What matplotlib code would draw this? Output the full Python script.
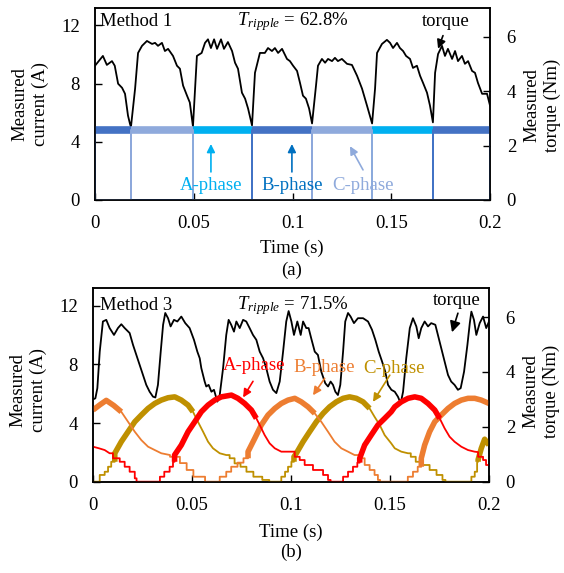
import numpy as np
import matplotlib.pyplot as plt

plt.rcParams['font.family'] = 'Liberation Serif'
plt.rcParams['mathtext.fontset'] = 'custom'
plt.rcParams['mathtext.rm'] = 'Liberation Serif'
plt.rcParams['mathtext.it'] = 'Liberation Serif:italic'
plt.rcParams['font.size'] = 13.5

# ---------------- Method 1 (square-wave currents) ----------------
# torque, [time s, Nm]
m1_torque = np.array([
    [0.0, 4.93], [0.004, 5.29], [0.006, 4.96], [0.0086, 5.1], [0.010, 4.93],
    [0.0117, 4.27], [0.0137, 4.12], [0.0152, 3.9], [0.0167, 3.1], [0.0177, 2.8],
    [0.0182, 2.68], [0.0203, 4.09], [0.0218, 5.4], [0.0238, 5.66], [0.0263, 5.84],
    [0.0289, 5.73], [0.0304, 5.77], [0.0319, 5.66], [0.0339, 5.77], [0.0354, 5.47],
    [0.037, 5.55], [0.0395, 5.29], [0.0415, 4.93], [0.043, 4.82], [0.0446, 4.2],
    [0.0466, 3.83], [0.048, 3.58], [0.0496, 2.7], [0.0516, 5.29], [0.054, 5.4],
    [0.0557, 5.77], [0.0572, 5.9], [0.0587, 5.58], [0.0603, 5.9], [0.0618, 5.55],
    [0.0638, 5.9], [0.0653, 5.55], [0.0673, 5.8], [0.0694, 5.47], [0.0709, 5.04],
    [0.0724, 4.82], [0.0744, 3.94], [0.076, 3.72], [0.0775, 3.36], [0.0795, 2.74],
    [0.081, 4.67], [0.0835, 5.4], [0.086, 5.4], [0.0876, 5.58], [0.0896, 5.47],
    [0.0911, 5.58], [0.0927, 5.4], [0.0947, 5.55], [0.0972, 5.18], [0.0987, 5.1],
    [0.1003, 4.93], [0.1023, 4.74], [0.1038, 4.3], [0.1053, 3.83], [0.1068, 3.72],
    [0.1084, 3.36], [0.1099, 2.81], [0.1119, 4.2], [0.1129, 4.93], [0.1149, 5.18],
    [0.1165, 5.04], [0.118, 5.18], [0.12, 5.1], [0.1215, 5.22], [0.123, 5.1],
    [0.125, 5.18], [0.1276, 5.0], [0.1301, 4.96], [0.1327, 4.56], [0.1352, 4.09],
    [0.1377, 3.47], [0.1403, 2.81], [0.1418, 4.09], [0.1428, 5.4], [0.1453, 5.73],
    [0.1478, 5.88], [0.1494, 5.77], [0.1509, 5.58], [0.1529, 5.77], [0.1544, 5.58],
    [0.156, 5.47], [0.1575, 5.29], [0.1595, 5.18], [0.161, 4.85], [0.163, 4.93],
    [0.1646, 4.56], [0.1661, 4.3], [0.1681, 3.94], [0.1696, 3.47], [0.1711, 2.85],
    [0.1722, 4.67], [0.1737, 5.36], [0.1757, 5.66], [0.1772, 5.29], [0.1787, 5.55],
    [0.1808, 5.18], [0.1823, 5.47], [0.1838, 5.1], [0.1858, 5.29], [0.1873, 5.0],
    [0.1889, 5.1], [0.1909, 4.74], [0.1924, 4.67], [0.1939, 4.3], [0.196, 3.9],
    [0.1985, 3.9], [0.2, 3.47],
])
# commutation instants and which phase conducts in between
m1_switch_t = [0.0, 0.018, 0.0496, 0.0795, 0.1099, 0.1403, 0.1711, 0.2]
m1_phase_seq = ['B', 'C', 'A', 'B', 'C', 'A', 'B']
m1_current = 4.8
m1_ripple = 62.8

# ---------------- Method 3 (sinusoidal-like currents) ----------------
m3_torque = np.array([
    [0.0, 3.0], [0.0012, 3.04], [0.0022, 3.41], [0.0034, 4.74], [0.005, 5.84],
    [0.0067, 5.9], [0.0084, 5.6], [0.0106, 5.35], [0.0126, 5.6], [0.0143, 5.74],
    [0.016, 5.6], [0.0185, 5.42], [0.0202, 4.99], [0.0219, 4.62], [0.0236, 4.26],
    [0.0253, 3.89], [0.0269, 3.53], [0.0286, 3.28], [0.0303, 3.1], [0.0315, 3.07],
    [0.0328, 3.53], [0.0342, 4.74], [0.0354, 5.72], [0.0365, 6.15], [0.0379, 5.96],
    [0.0392, 5.66], [0.0409, 5.9], [0.0426, 5.84], [0.0446, 6.02], [0.0466, 5.78],
    [0.0488, 5.6], [0.051, 5.17], [0.0527, 4.74], [0.0539, 4.5], [0.0547, 4.14],
    [0.0564, 3.65], [0.0572, 3.47], [0.0584, 3.53], [0.0598, 3.28], [0.0611, 3.35],
    [0.0628, 2.92], [0.064, 3.16], [0.0657, 4.14], [0.0673, 5.35], [0.0685, 5.9],
    [0.0698, 5.72], [0.0712, 5.47], [0.0724, 5.84], [0.0741, 5.6], [0.0758, 5.9],
    [0.0774, 5.84], [0.0791, 5.6], [0.0808, 5.35], [0.0825, 5.17], [0.0842, 4.74],
    [0.0859, 4.5], [0.0875, 4.14], [0.0892, 3.65], [0.0909, 3.35], [0.0926, 3.23],
    [0.0943, 3.65], [0.096, 4.74], [0.0976, 5.84], [0.0988, 6.22], [0.1002, 5.84],
    [0.1015, 5.35], [0.1032, 5.84], [0.1049, 5.35], [0.1061, 5.84], [0.1077, 5.6],
    [0.1089, 5.6], [0.1102, 5.23], [0.112, 4.74], [0.1136, 4.62], [0.1153, 4.01],
    [0.1173, 3.59], [0.1187, 3.47], [0.12, 3.65], [0.1212, 3.53], [0.1224, 3.28],
    [0.1237, 3.16], [0.1249, 3.53], [0.1263, 4.74], [0.1274, 5.84], [0.1288, 6.15],
    [0.1301, 6.02], [0.1318, 5.78], [0.1338, 5.96], [0.1364, 5.96], [0.1389, 5.84],
    [0.1409, 5.54], [0.1426, 5.17], [0.1443, 4.74], [0.146, 4.38], [0.1476, 4.01],
    [0.149, 3.53], [0.1507, 3.35], [0.1524, 3.28], [0.154, 3.1], [0.1554, 2.86],
    [0.1566, 3.28], [0.1582, 4.5], [0.16, 5.6], [0.1616, 5.96], [0.1633, 5.66],
    [0.1645, 5.23], [0.1658, 5.6], [0.1675, 5.84], [0.1692, 5.66], [0.1708, 5.78],
    [0.1729, 5.72], [0.1742, 5.35], [0.1759, 4.87], [0.1776, 4.38], [0.1793, 3.89],
    [0.1809, 3.65], [0.1826, 3.53], [0.1843, 3.35], [0.1857, 3.41], [0.1874, 4.01],
    [0.1891, 4.99], [0.1903, 5.78], [0.1911, 6.2], [0.1924, 5.9], [0.1936, 5.35],
    [0.1953, 5.78], [0.197, 6.02], [0.1986, 5.6], [0.2, 5.84],
])

m3_ia = np.array([
    [0.0, 2.39], [0.003, 2.28], [0.0059, 2.16], [0.0084, 1.94], [0.0101, 1.94],
    [0.0101, 1.6], [0.0135, 1.6], [0.0135, 1.36], [0.016, 1.36], [0.016, 1.02],
    [0.0185, 1.02], [0.0185, 0.68], [0.0211, 0.68], [0.0211, 0.23], [0.022, 0.23],
    [0.022, 0.0], [0.0338, 0.0], [0.0338, 0.34], [0.036, 0.34], [0.036, 0.68],
    [0.0387, 0.68], [0.0387, 1.02], [0.0404, 1.02], [0.0404, 1.36], [0.0412, 1.36],
    [0.0412, 1.82], [0.0446, 2.5], [0.048, 3.41], [0.0514, 4.09], [0.0547, 4.77],
    [0.0581, 5.23], [0.0615, 5.57], [0.0648, 5.79], [0.0699, 5.91], [0.0732, 5.69],
    [0.0766, 5.34], [0.08, 4.89], [0.0825, 4.32], [0.0842, 3.87], [0.0867, 3.18],
    [0.0892, 2.62], [0.0918, 2.28], [0.0951, 2.05], [0.1019, 2.05], [0.1019, 1.7],
    [0.1044, 1.7], [0.1044, 1.48], [0.1069, 1.48], [0.1069, 1.14], [0.1111, 1.14],
    [0.1111, 0.8], [0.1162, 0.8], [0.1162, 0.46], [0.1187, 0.46], [0.1187, 0.12],
    [0.12, 0.12], [0.12, 0.0], [0.1263, 0.0], [0.1263, 0.34], [0.1288, 0.34],
    [0.1288, 0.68], [0.1313, 0.68], [0.1313, 1.02], [0.1335, 1.02], [0.1335, 1.3],
    [0.1347, 1.3], [0.1347, 1.6], [0.1372, 2.5], [0.1405, 3.18], [0.1439, 3.87],
    [0.1473, 4.32], [0.1506, 4.77], [0.1524, 5.11], [0.1557, 5.45], [0.1591, 5.69],
    [0.1625, 5.79], [0.1658, 5.69], [0.1692, 5.34], [0.1726, 4.89], [0.1751, 4.32],
    [0.1776, 3.64], [0.1801, 3.07], [0.1826, 2.73], [0.186, 2.39], [0.1894, 2.16],
    [0.1927, 2.05], [0.1945, 2.02], [0.1945, 1.7], [0.197, 1.7], [0.197, 1.48],
    [0.1985, 1.48], [0.1985, 1.14], [0.2, 1.14],
])
m3_ib = np.array([
    [0.0, 4.89], [0.0035, 5.25], [0.0067, 5.55], [0.0105, 5.2], [0.0143, 4.77],
    [0.0177, 4.09], [0.0211, 3.41], [0.0244, 2.84], [0.0278, 2.39], [0.0312, 2.16],
    [0.0345, 1.94], [0.0389, 1.82], [0.0389, 1.7], [0.0439, 1.7], [0.0439, 1.27],
    [0.0473, 1.27], [0.0473, 0.8], [0.0507, 0.8], [0.0507, 0.34], [0.0566, 0.34],
    [0.0566, 0.0], [0.064, 0.0], [0.064, 0.34], [0.0673, 0.34], [0.0673, 0.68],
    [0.0698, 0.68], [0.0698, 1.02], [0.073, 1.02], [0.073, 1.3], [0.076, 1.3],
    [0.076, 1.6], [0.0783, 1.6], [0.0783, 2.05], [0.0817, 2.96], [0.085, 3.87],
    [0.0884, 4.55], [0.0918, 5.0], [0.0951, 5.34], [0.0985, 5.57], [0.1019, 5.69],
    [0.1052, 5.45], [0.1086, 5.11], [0.112, 4.66], [0.1153, 4.09], [0.1187, 3.41],
    [0.122, 2.73], [0.1254, 2.28], [0.1288, 2.05], [0.1321, 1.82], [0.1347, 1.82],
    [0.1347, 1.6], [0.1372, 1.6], [0.1372, 1.14], [0.1397, 1.14], [0.1397, 0.8],
    [0.1422, 0.8], [0.1422, 0.46], [0.1439, 0.46], [0.1439, 0.12], [0.145, 0.12],
    [0.145, 0.0], [0.159, 0.0], [0.159, 0.34], [0.1616, 0.34], [0.1616, 0.68],
    [0.164, 0.68], [0.164, 1.02], [0.1658, 1.02], [0.1658, 1.6], [0.1675, 2.5],
    [0.17, 3.41], [0.1726, 4.09], [0.1759, 4.55], [0.1793, 5.0], [0.1826, 5.34],
    [0.186, 5.57], [0.1894, 5.69], [0.1928, 5.69], [0.1961, 5.57], [0.2, 5.34],
])
m3_ic = np.array([
    [0.0, 0.0], [0.0034, 0.0], [0.0034, 0.46], [0.0059, 0.46], [0.0059, 0.68],
    [0.0076, 0.68], [0.0076, 1.02], [0.0092, 1.02], [0.0092, 1.36], [0.011, 1.36],
    [0.011, 1.94], [0.0143, 2.73], [0.0177, 3.41], [0.0211, 4.09], [0.0244, 4.55],
    [0.0278, 5.0], [0.0312, 5.34], [0.0345, 5.57], [0.0379, 5.73], [0.0413, 5.79],
    [0.0446, 5.57], [0.048, 5.23], [0.0505, 4.77], [0.053, 4.09], [0.0556, 3.41],
    [0.0581, 2.73], [0.0606, 2.28], [0.064, 1.94], [0.0673, 1.82], [0.069, 1.82],
    [0.069, 1.6], [0.0715, 1.6], [0.0715, 1.25], [0.0745, 1.25], [0.0745, 1.02],
    [0.0775, 1.02], [0.0775, 0.68], [0.081, 0.68], [0.081, 0.34], [0.0855, 0.34],
    [0.0855, 0.12], [0.089, 0.12], [0.089, 0.0], [0.0951, 0.0], [0.0951, 0.34],
    [0.097, 0.34], [0.097, 0.68], [0.0985, 0.68], [0.0985, 1.02], [0.1002, 1.02],
    [0.1002, 1.36], [0.1015, 1.36], [0.1015, 1.7], [0.1027, 1.94], [0.1061, 2.73],
    [0.1094, 3.41], [0.1128, 4.09], [0.1162, 4.66], [0.1195, 5.11], [0.1229, 5.45],
    [0.1263, 5.69], [0.1296, 5.79], [0.133, 5.69], [0.1364, 5.45], [0.1397, 5.0],
    [0.1422, 4.43], [0.1448, 3.87], [0.1473, 3.18], [0.1506, 2.62], [0.1524, 2.28],
    [0.1557, 2.05], [0.1591, 1.94], [0.1605, 1.94], [0.1605, 1.7], [0.163, 1.7],
    [0.163, 1.36], [0.1665, 1.36], [0.1665, 1.14], [0.17, 1.14], [0.17, 0.8],
    [0.1735, 0.8], [0.1735, 0.46], [0.1765, 0.46], [0.1765, 0.12], [0.178, 0.12],
    [0.178, 0.0], [0.1911, 0.0], [0.1911, 0.34], [0.1928, 0.34], [0.1928, 0.68],
    [0.194, 0.68], [0.194, 1.36], [0.1945, 1.36], [0.1945, 1.5], [0.1961, 2.28],
    [0.1978, 2.9], [0.2, 2.5],
])
# intervals where the PWM ripple makes the trace look like a thick band
m3_ia_band = [(0.0412, 0.0825), (0.1347, 0.1751)]
m3_ib_band = [(0.0, 0.0143), (0.0783, 0.112), (0.1658, 0.2)]
m3_ic_band = [(0.011, 0.0505), (0.1015, 0.1397), (0.1945, 0.2)]
m3_ripple = 71.5

m1_colors = {'A': '#00B0F0', 'B': '#4472C4', 'C': '#8FAADC'}
m1_text_colors = {'A': '#00B0F0', 'B': '#0070C0', 'C': '#8FAADC'}
m3_colors = {'A': '#FF0000', 'B': '#ED7D31', 'C': '#BF9000'}

W, H = 564, 573
fig = plt.figure(figsize=(W / 100, H / 100), dpi=100)


def make_axes(rect):
    ax = fig.add_axes(rect)
    ax2 = ax.twinx()
    ax.set_zorder(ax2.get_zorder() + 1)
    ax.patch.set_visible(False)
    ax.set_xlim(0, 0.2)
    ax.set_ylim(0, 13.2)
    ax2.set_ylim(0, 7.05)
    ax.set_xticks([0, 0.05, 0.1, 0.15, 0.2])
    ax.set_xticklabels(['0', '0.05', '0.1', '0.15', '0.2'])
    ax.set_yticks([0, 4, 8, 12])
    ax2.set_yticks([0, 2, 4, 6])
    ax.tick_params(direction='in', length=5, width=1, pad=11)
    ax2.tick_params(direction='in', length=5, width=1, pad=12)
    for a in (ax, ax2):
        for s in a.spines.values():
            s.set_linewidth(1.1)
    return ax, ax2


def arrow(ax, tail, head, color, scale=12):
    ax.annotate('', xy=head, xytext=tail,
                arrowprops=dict(arrowstyle='-|>', color=color, lw=1.2,
                                mutation_scale=scale, shrinkA=0, shrinkB=0))


def band_phase(ax, data, spans, color):
    t, i = data[:, 0], data[:, 1]
    ax.plot(t, i, color=color, lw=1.3)
    for a, b in spans:
        m = (t >= a) & (t <= b)
        ax.plot(t[m], i[m], color=color, lw=4, solid_capstyle='butt')


# ---- (a) Method 1 ----
ax, ax2 = make_axes([95 / W, 1 - 200 / H, 395 / W, 192 / H])
ax2.plot(m1_torque[:, 0], m1_torque[:, 1], color='black', lw=1.3)

for ph in 'ABC':
    tt, ii = [0.0], [0.0]
    spans = []
    for k, p in enumerate(m1_phase_seq):
        if p != ph:
            continue
        a, b = m1_switch_t[k], m1_switch_t[k + 1]
        tt += [a, a, b, b]
        ii += [0, m1_current, m1_current, 0]
        spans.append((a, b))
    tt.append(0.2)
    ii.append(0)
    ax.plot(tt, ii, color=m1_colors[ph], lw=1.4)
    for a, b in spans:
        ax.plot([a, b], [m1_current, m1_current], color=m1_colors[ph],
                lw=5.5, solid_capstyle='butt')

ax.text(0.0025, 12.28, 'Method 1', va='center', ha='left')
ax.text(0.0719, 12.28, r'$T_{ripple}$ = %.1f%%' % m1_ripple, va='center', ha='left')
ax.text(0.1777, 12.28, 'torque', va='center', ha='center')
arrow(ax, (0.1762, 11.3), (0.1737, 10.4), 'black', 13)

ax.text(0.0587, 1.03, 'A-phase', color=m1_text_colors['A'], ha='center', va='center')
arrow(ax, (0.0587, 1.93), (0.0587, 3.85), m1_text_colors['A'])
ax.text(0.0997, 1.03, 'B-phase', color=m1_text_colors['B'], ha='center', va='center')
arrow(ax, (0.0997, 1.93), (0.0997, 3.85), m1_text_colors['B'])
ax.text(0.1357, 1.03, 'C-phase', color=m1_text_colors['C'], ha='center', va='center')
arrow(ax, (0.1357, 2.07), (0.1291, 3.7), m1_text_colors['C'])

fig.text(30 / W, 1 - 104 / H, 'Measured\ncurrent (A)', rotation=90,
         ha='center', va='center', multialignment='center', linespacing=1.25)
fig.text(542 / W, 1 - 105 / H, 'Measured\ntorque (Nm)', rotation=90,
         ha='center', va='center', multialignment='center', linespacing=1.25)
fig.text(292 / W, 1 - 248 / H, 'Time (s)', ha='center', va='center')
fig.text(292 / W, 1 - 270 / H, '(a)', ha='center', va='center')

# ---- (b) Method 3 ----
bx, bx2 = make_axes([93 / W, 1 - 481.7 / H, 396 / W, 193.4 / H])
bx2.plot(m3_torque[:, 0], m3_torque[:, 1], color='black', lw=1.3)

band_phase(bx, m3_ic, m3_ic_band, m3_colors['C'])
band_phase(bx, m3_ib, m3_ib_band, m3_colors['B'])
band_phase(bx, m3_ia, m3_ia_band, m3_colors['A'])

bx.text(0.0035, 12.05, 'Method 3', va='center', ha='left')
bx.text(0.0727, 12.05, r'$T_{ripple}$ = %.1f%%' % m3_ripple, va='center', ha='left')
bx.text(0.1838, 12.39, 'torque', va='center', ha='center')
arrow(bx, (0.1843, 11.5), (0.1813, 10.2), 'black', 16)

bx.text(0.0813, 7.96, 'A-phase', color=m3_colors['A'], ha='center', va='center')
arrow(bx, (0.0808, 6.85), (0.0758, 5.75), m3_colors['A'])
bx.text(0.1167, 7.82, 'B-phase', color=m3_colors['B'], ha='center', va='center')
arrow(bx, (0.117, 7.05), (0.1111, 5.9), m3_colors['B'])
bx.text(0.1518, 7.75, 'C-phase', color=m3_colors['C'], ha='center', va='center')
arrow(bx, (0.1499, 7.27), (0.1414, 5.45), m3_colors['C'])

fig.text(28 / W, 1 - 390 / H, 'Measured\ncurrent (A)', rotation=90,
         ha='center', va='center', multialignment='center', linespacing=1.25)
fig.text(541 / W, 1 - 391 / H, 'Measured\ntorque (Nm)', rotation=90,
         ha='center', va='center', multialignment='center', linespacing=1.25)
fig.text(291 / W, 1 - 532 / H, 'Time (s)', ha='center', va='center')
fig.text(291 / W, 1 - 552 / H, '(b)', ha='center', va='center')

fig.savefig('out.png', dpi=100)
